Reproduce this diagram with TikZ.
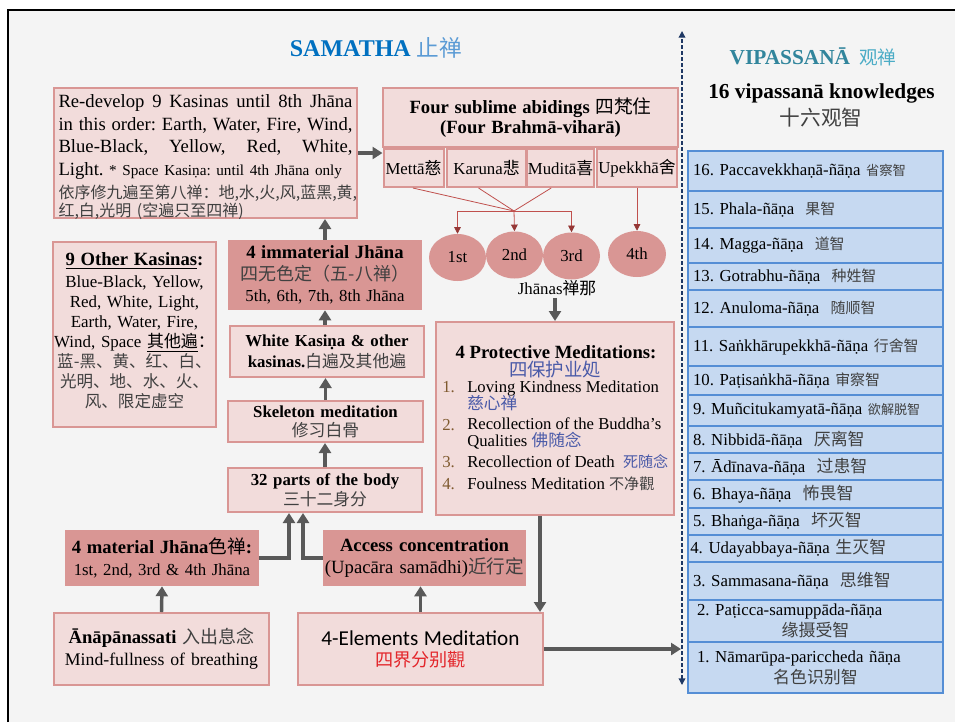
\documentclass[tikz,border=0pt]{standalone}
\usepackage{fontspec}
\setmainfont{Liberation Serif}
\newfontfamily\cjk{Noto Sans CJK SC}
\newfontfamily\calib{Carlito}
\usetikzlibrary{arrows.meta,shapes.geometric}
\newcommand{\fz}[2]{\fontsize{#1}{#2}\selectfont}
\newcommand{\zh}[1]{{\cjk #1}}
\newcommand{\zg}[2]{{\cjk\color{cgrey}\fontsize{#1}{12pt}\selectfont #2}}
\definecolor{bgc}{HTML}{F4F4F4}
\definecolor{lpink}{HTML}{F2DCDB}
\definecolor{bpink}{HTML}{D99694}
\definecolor{dpink}{HTML}{D99694}
\definecolor{agrey}{HTML}{595959}
\definecolor{rlinec}{HTML}{C0504D}
\definecolor{rhead}{HTML}{953735}
\definecolor{lblue}{HTML}{C6D9F1}
\definecolor{bblue}{HTML}{558ED5}
\definecolor{samblue}{HTML}{0070C0}
\definecolor{samblue2}{HTML}{5B9BD5}
\definecolor{vteal}{HTML}{31859C}
\definecolor{vteal2}{HTML}{4BACC6}
\definecolor{cgrey}{HTML}{404040}
\definecolor{pblue}{HTML}{4A5AA8}
\definecolor{nbrown}{HTML}{7F5A2F}
\definecolor{navy}{HTML}{1F3864}
\definecolor{ered}{HTML}{E3262B}
\begin{document}
\lineskiplimit=-20pt
\frenchspacing
\begin{tikzpicture}[x=0.75pt,y=-0.75pt, font=\fz{12.6pt}{15pt},
  lbox/.style={draw=bpink, fill=lpink, line width=1.5pt, inner sep=0pt},
  dbox/.style={fill=dpink, inner sep=0pt},
  bbox/.style={draw=bblue, fill=lblue, line width=1.5pt, inner sep=0pt, text width=183.75pt, align=left},
  sz/.style 2 args={minimum width=#1*0.75pt, minimum height=#2*0.75pt},
  ell/.style={ellipse, fill=dpink, inner sep=0pt},
  garrow/.style={draw=agrey, line width=2.6pt, -{Triangle[length=7.5pt,width=9pt]}},
  thinred/.style={draw=rlinec, line width=0.6pt},
  rarrow/.style={draw=rlinec, line width=0.6pt, -{Triangle[length=5pt,width=5pt,color=rhead]}},
  txt/.style={inner sep=0pt}
]
\useasboundingbox (0,0) rectangle (955,722);
\fill[white] (0,0) rectangle (955,722);
\fill[bgc] (8,10) rectangle (955,722);
\draw[line width=2pt] (8,722) -- (8,10) -- (955,10);

% titles
\node[txt, text=samblue, font=\fz{18pt}{20pt}\bfseries] (samatha) at (376,48) {SAMATHA {\mdseries\cjk\color{samblue2}\fz{17pt}{20pt}止禅}};
\node[txt, text=vteal, font=\fz{16pt}{18pt}\bfseries] (vip) at (813,57) {VIPASSANĀ\, {\mdseries\cjk\color{vteal2}\fz{14pt}{18pt}观禅}};
\node[txt, font=\fz{16pt}{18pt}\bfseries] (k16t) at (821.5,93) {16 vipassanā knowledges};
\node[txt, font=\fz{15.5pt}{18pt}] (k16c) at (821,118) {\zh{\color{cgrey}十六观智}};

% box A
\node[lbox, sz={303}{130}] (A) at (205.5,153) {};
\node[txt, text width=220.5pt, align=left] (Atext) at (205.5,157) {%
{\fz{14pt}{17pt}\hbox to 220.5pt{Re-develop\hfill 9\hfill Kasinas\hfill until\hfill 8th\hfill Jhāna}\par
\hbox to 220.5pt{in\hfill this\hfill order:\hfill Earth,\hfill Water,\hfill Fire,\hfill Wind,}\par
\hbox to 220.5pt{Blue-Black,\hfill Yellow,\hfill Red,\hfill White,}\par
Light. {\fz{11.4pt}{17pt}* Space Kasiṇa: until 4th Jhāna only}\par}%
\vspace{3.5pt}%
{\cjk\color{cgrey}\fz{12pt}{13.5pt}依序修九遍至第八禅：地,水,火,风,蓝黑,黄,\\红,白,光明 (空遍只至四禅)\par}};

% four sublime abidings
\node[lbox, sz={295}{59}, text width=215pt, align=center] (four) at (530.5,117.5) {\bfseries\fz{14pt}{18pt}Four sublime abidings {\mdseries\cjk 四梵住}\\(Four Brahmā-viharā)};
\node[lbox, sz={60}{38}] (metta) at (413.5,168) {Mettā\zh{慈}};
\node[lbox, sz={79}{38}] (karuna) at (486.5,168) {Karuna\zh{悲}};
\node[lbox, sz={67}{38}] (mudita) at (560.5,168) {Muditā\zh{喜}};
\node[lbox, sz={80}{38}] (upekkha) at (637,168) {Upekkhā\zh{舍}};

\node[ell, sz={57}{47}] (e1) at (457.5,257.5) {1st};
\node[ell, sz={57}{47}] (e2) at (514.5,255) {2nd};
\node[ell, sz={57}{47}] (e3) at (571.5,256) {3rd};
\node[ell, sz={58}{46}] (e4) at (637,254) {4th};
\coordinate (conv) at (514,211);
\draw[thinred] ([xshift=-0.5]metta.south) -- (conv);
\draw[thinred] ([xshift=-6]karuna.south) -- (conv);
\draw[thinred] ([xshift=-7]mudita.south) -- (conv);
\draw[thinred] (e1.north |- conv) -- (e3.north |- conv);
\draw[rarrow] (e1.north |- conv) -- (e1.north);
\draw[rarrow] (conv) -- (e2.north);
\draw[rarrow] (e3.north |- conv) -- (e3.north);
\draw[rarrow] (upekkha.south) -- (e4.north);
\node[txt] (jh) at (557,288) {Jhānas\zh{禅那}};

% protective
\node[lbox, sz={238}{193}] (prot) at (555,418.5) {};
\draw[garrow] (jh.south -| prot.north) ++(0,2) -- (prot.north);
\node[txt, font=\fz{14pt}{16pt}\bfseries] (protT) at (556,352) {4 Protective Meditations:};
\node[txt, font=\fz{13.8pt}{16pt}\cjk, text=pblue] (protC) at (555,370) {四保护业処};
\begin{scope}[every node/.style={txt, anchor=west}]
\node[text=nbrown] (n1) at (442,387) {1.};
\node[align=left, font=\fz{12.5pt}{12.75pt}] (t1) at (467,395.5) {Loving Kindness Meditation\\{\cjk\color{pblue}慈心禅}};
\node[text=nbrown] (n2) at (442,425) {2.};
\node[align=left, font=\fz{12.5pt}{12.5pt}] (t2) at (467,433.5) {Recollection of the Buddha’s\\Qualities {\cjk\color{pblue}佛随念}};
\node[text=nbrown] (n3) at (442,462) {3.};
\node (t3) at (467,462) {Recollection of Death\ \ {\cjk\color{pblue}\fz{11.3pt}{14pt}死随念}};
\node[text=nbrown] (n4) at (442,484) {4.};
\node (t4) at (467,484) {Foulness Meditation {\cjk\color{cgrey}\fz{11.3pt}{14pt}不净觀}};
\end{scope}

% left column
\node[lbox, sz={163}{185}] (other) at (134.5,334.5) {};
\node[txt, text width=160pt, align=center, font=\fz{12.7pt}{15pt}] (otherT) at (134.5,331) {%
{\bfseries\fz{14pt}{15pt}\underline{9 Other Kasinas}:}\\[1.5pt]
Blue-Black, Yellow,\\ Red, White, Light,\\ Earth, Water, Fire,\\ Wind, Space \underline{\zh{其他遍}}\zh{：}\\
{\cjk\color{cgrey}\fz{12.4pt}{15pt}蓝-黑、黄、红、白、\\光明、地、水、火、\\风、限定虚空}};

\node[dbox, sz={194}{70}, text width=145pt, align=center, font=\fz{12.6pt}{16.1pt}] (imm) at (325,275) {{\bfseries\fz{14pt}{16pt}4 immaterial Jhāna}\\{\cjk\color{cgrey}\fz{13.5pt}{16pt}四无色定（五-八禅）}\\5th, 6th, 7th, 8th Jhāna};
\node[lbox, sz={194}{51}, text width=145pt, align=center, font=\fz{12.6pt}{15.75pt}] (white) at (327,351.5) {{\bfseries White Kasiṇa \& other}\\{\bfseries kasinas.}{\cjk\color{cgrey}白遍及其他遍}};
\node[lbox, sz={195}{41}, text width=145pt, align=center, font=\fz{12.6pt}{14.25pt}] (skel) at (325.5,421.5) {{\bfseries Skeleton meditation}\\{\cjk\color{cgrey}修习白骨}};
\node[lbox, sz={194}{44}, text width=145pt, align=center, font=\fz{12.6pt}{15pt}] (parts) at (325,490) {{\bfseries 32 parts of the body}\\{\cjk\color{cgrey}三十二身分}};
\node[dbox, sz={194}{56}, text width=145pt, align=center, font=\fz{12.6pt}{16.5pt}] (mat) at (162,558) {{\bfseries\fz{14pt}{16pt}4 material Jhāna{\mdseries\cjk 色禅}:}\\1st, 2nd, 3rd \& 4th Jhāna};
\node[dbox, sz={203}{56}, text width=150pt, align=center, font=\fz{14pt}{16.5pt}] (acc) at (424.5,558) {{\bfseries Access concentration}\\(Upacāra samādhi){\cjk\color{cgrey}近行定}};
\node[lbox, sz={215}{72}, text width=155pt, align=center, font=\fz{13.3pt}{16.5pt}] (ana) at (161.5,649) {{\bfseries\fz{14pt}{16pt}Ānāpānassati} {\cjk\color{cgrey}\fz{13.5pt}{16pt}入出息念}\\Mind-fullness of breathing};
\node[lbox, sz={245}{72}, text width=180pt, align=center, font=\fz{12.6pt}{15.75pt}] (elem) at (420.5,649) {{\calib\fz{15.9pt}{16pt}4-Elements Meditation}\\{\cjk\color{ered}\fz{13.6pt}{16pt}四界分别觀}};

% grey arrows
\draw[garrow] (A.east) -- (A.east -| metta.west);
\draw[garrow] (imm.north) -- (imm.north |- A.south);
\draw[garrow] (white.north -| imm.south) -- (imm.south);
\draw[garrow] (skel.north) -- (skel.north |- white.south);
\draw[garrow] (parts.north) -- (parts.north |- skel.south);
\coordinate (c1) at (289,0);
\coordinate (c2) at (303,0);
\draw[garrow] (mat.east) -| (c1 |- parts.south);
\draw[garrow] (acc.west) -| (c2 |- parts.south);
\draw[garrow] (ana.north) -- (mat.south);
\draw[garrow] (elem.north) -- (elem.north |- acc.south);
\coordinate (pe) at (540,0);
\draw[garrow] (pe |- prot.south) -- (pe |- elem.north);
\coordinate (dl) at (681,649);
\draw[garrow] (elem.east) -- (dl);

% dashed line
\coordinate (dtop) at (682,31);
\coordinate (dbot) at (682,685);
\draw[navy, line width=1pt, dash pattern=on 2.5pt off 2pt, {Triangle[length=5pt,width=5pt]}-{Triangle[length=5pt,width=5pt]}] (dbot) -- (dtop);

% vipassana knowledges
\node[bbox, sz={255}{40}] (k16) at (815.5,171) {16. Paccavekkhaṇā-ñāṇa \zg{10pt}{省察智}};
\node[bbox, sz={255}{37}] (k15) at (815.5,209.5) {15. Phala-ñāṇa\ \ \zg{11.2pt}{果智}};
\node[bbox, sz={255}{35}] (k14) at (815.5,245.5) {14. Magga-ñāṇa\ \ \zg{11.2pt}{道智}};
\node[bbox, sz={255}{27}] (k13) at (815.5,276.5) {13. Gotrabhu-ñāṇa\ \ \zg{11.2pt}{种姓智}};
\node[bbox, sz={255}{37}] (k12) at (815.5,308.5) {12. Anuloma-ñāṇa\ \ \zg{11.2pt}{随顺智}};
\node[bbox, sz={255}{39}] (k11) at (815.5,346.5) {11. Saṅkhārupekkhā-ñāṇa \zg{11.2pt}{行舍智}};
\node[bbox, sz={255}{29}] (k10) at (815.5,380.5) {10. Paṭisaṅkhā-ñāṇa \zg{11.2pt}{审察智}};
\node[bbox, sz={255}{31}] (k9) at (815.5,410.5) {9. Muñcitukamyatā-ñāṇa \zg{9.8pt}{欲解脱智}};
\node[bbox, sz={255}{27}] (k8) at (815.5,439.5) {8. Nibbidā-ñāṇa\ \ \zg{12.7pt}{厌离智}};
\node[bbox, sz={255}{27}] (k7) at (815.5,466.5) {7. Ādīnava-ñāṇa\ \ \zg{12.7pt}{过患智}};
\node[bbox, sz={255}{28}] (k6) at (815.5,494) {6. Bhaya-ñāṇa\ \ \zg{12.7pt}{怖畏智}};
\node[bbox, sz={255}{27}] (k5) at (815.5,521.5) {5. Bhaṅga-ñāṇa\ \ \zg{12.7pt}{坏灭智}};
\node[bbox, sz={255}{27}] (k4) at (815.5,548.5) {\hspace*{-2pt}4. Udayabbaya-ñāṇa \zg{12.7pt}{生灭智}};
\node[bbox, sz={255}{38}] (k3) at (815.5,581) {3. Sammasana-ñāṇa\ \ \zg{12.7pt}{思维智}};
\node[bbox, sz={255}{42}, font=\fz{12.6pt}{15.75pt}] (k2) at (815.5,621) {\hspace*{3pt}2. Paṭicca-samuppāda-ñāṇa\par\centering\zg{12.7pt}{缘摄受智}\par};
\node[bbox, sz={255}{51}, font=\fz{12.6pt}{15.75pt}] (k1) at (815.5,667.5) {\hspace*{3pt}1. Nāmarūpa-pariccheda ñāṇa\par\centering\zg{12.7pt}{名色识别智}\par};
\end{tikzpicture}
\end{document}
